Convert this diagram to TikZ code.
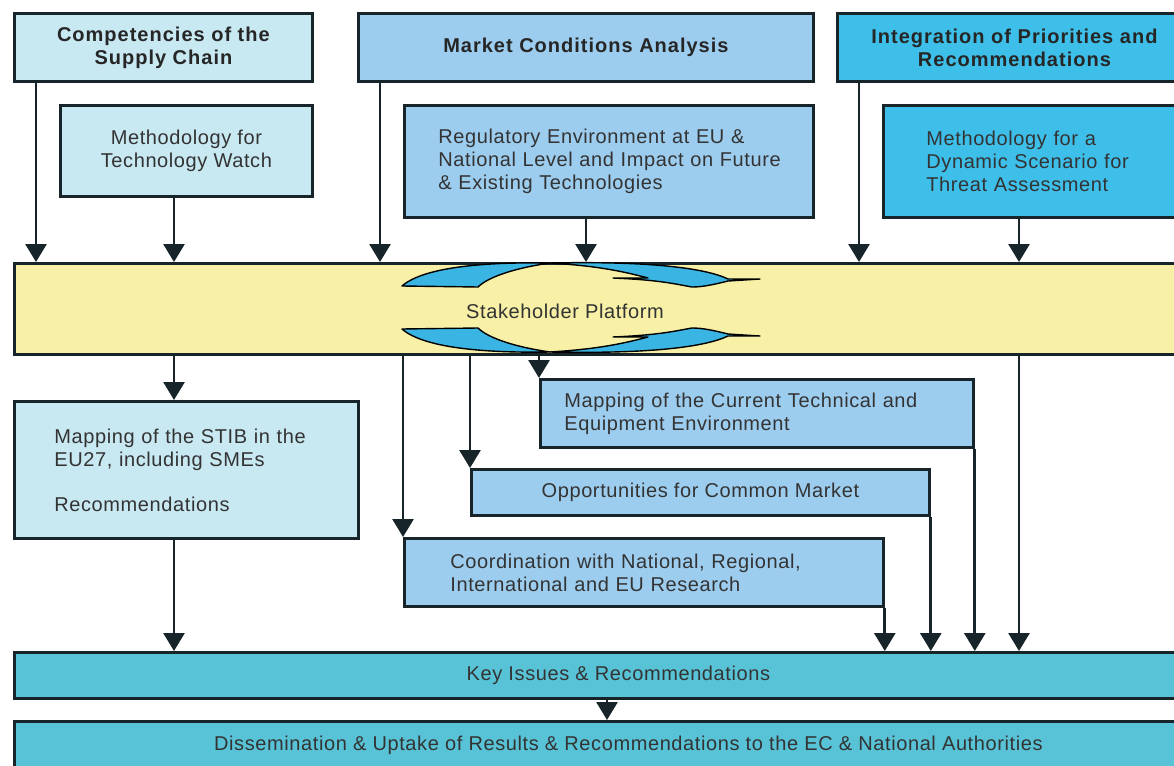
\documentclass[tikz,border=0pt]{standalone}
\usepackage{fontspec}
\setmainfont{Liberation Sans}
\usetikzlibrary{arrows.meta}
\definecolor{lightbl}{HTML}{C8E8F2}
\definecolor{midbl}{HTML}{9DCDEE}
\definecolor{cyanbl}{HTML}{3DBFEA}
\definecolor{platy}{HTML}{F7F0A6}
\definecolor{tealbl}{HTML}{58C3D6}
\definecolor{swoosh}{HTML}{3AB5E3}
\definecolor{edge}{HTML}{17242A}
\definecolor{txt}{HTML}{333333}
\newfontfamily\regfont[LetterSpace=3]{Liberation Sans}
\newfontfamily\boldfont[LetterSpace=5]{Liberation Sans Bold}
\begin{document}
\begin{tikzpicture}[x=1pt,y=-1pt,
  box/.style={draw=edge, line width=2.8pt, anchor=north west, inner ysep=0pt,
    text=txt, font=\regfont\fontsize{20}{23}\selectfont},
  cbox/.style={box, align=center, inner xsep=2pt},
  tbox/.style={cbox, font=\boldfont\fontsize{20}{23}\selectfont, text=black!85},
  arr/.style={draw=edge, line width=2.8pt, -{Triangle[width=21pt,length=18pt]}},
  swo/.style={draw=black, line width=1.4pt, fill=swoosh, line join=round}]
\useasboundingbox (0,0) rectangle (1174,765);
\clip (0,0) rectangle (1174,765);
\fill[white] (0,0) rectangle (1174,765);

% top row
\node[tbox, fill=lightbl, minimum width=298pt, minimum height=68pt] (comp) at (13,12) {Competencies of the\\Supply Chain};
\node[tbox, fill=midbl, minimum width=455pt, minimum height=68pt] (market) at (357,12) {Market Conditions Analysis};
\node[tbox, fill=cyanbl, minimum width=354pt, minimum height=68pt] (integ) at (836,12) {Integration of Priorities and\\Recommendations};

% second row
\node[cbox, fill=lightbl, minimum width=252pt, minimum height=91pt] (mtw) at (59,104) {Methodology for\\Technology Watch};
\node[box, fill=midbl, text width=341pt, inner xsep=34pt, minimum height=112pt, align=left] (reg) at (403,104) {\mbox{Regulatory Environment at EU \&}\\\mbox{National Level and Impact on Future}\\\mbox{\& Existing Technologies}};
\node[box, fill=cyanbl, text width=222pt, inner xsep=43pt, minimum height=112pt, align=left] (mds) at (882,104) {Methodology for a\\Dynamic Scenario for\\Threat Assessment};

% platform
\node[box, fill=platy, minimum width=1175pt, minimum height=91pt] (plat) at (13,262) {};

% swooshes
\draw[swo] (402,286) .. controls (425,266) and (490,262) .. (550,263)
  .. controls (515,268) and (488,277) .. (478,287) -- cycle;
\draw[swo] (550,263) .. controls (650,261) and (705,268) .. (728,279) -- (760,279) -- (728,281)
  .. controls (712,285) and (702,287) .. (692,287)
  .. controls (675,284) and (660,280) .. (613,278) -- (648,278)
  .. controls (625,272) and (600,266) .. cycle;
\begin{scope}[shift={(0,615)}, yscale=-1]
\draw[swo] (402,286) .. controls (425,266) and (490,262) .. (550,263)
  .. controls (515,268) and (488,277) .. (478,287) -- cycle;
\draw[swo] (550,263) .. controls (650,261) and (705,268) .. (728,279) -- (760,279) -- (728,281)
  .. controls (712,285) and (702,287) .. (692,287)
  .. controls (675,284) and (660,280) .. (613,278) -- (648,278)
  .. controls (625,272) and (600,266) .. cycle;
\end{scope}
\node[text=txt, font=\regfont\fontsize{20}{23}\selectfont, inner sep=0pt] (spt) at (565,311) {Stakeholder Platform};

% lower boxes
\node[box, fill=lightbl, text width=264pt, inner xsep=40pt, minimum height=137pt, align=left] (stib) at (13,400) {Mapping of the STIB in the\\EU27, including SMEs\\[22pt]Recommendations};
\node[box, fill=midbl, text width=385pt, inner xsep=24pt, minimum height=68pt, align=left] (mapcur) at (539,378) {\mbox{Mapping of the Current Technical and}\\Equipment Environment};
\node[cbox, fill=midbl, minimum width=458pt, minimum height=46pt] (opp) at (470,468) {Opportunities for Common Market};
\node[box, fill=midbl, text width=387pt, inner xsep=46pt, minimum height=68pt, align=left] (coord) at (403,537) {\mbox{Coordination with National, Regional,}\\International and EU Research};

% bottom bars
\node[cbox, fill=tealbl, minimum width=1208pt, minimum height=46pt] (keys) at (13,651) {Key Issues \& Recommendations};
\node[cbox, fill=tealbl, minimum width=1228pt, minimum height=52pt, text depth=8pt] (diss) at (13,720) {Dissemination \& Uptake of Results \& Recommendations to the EC \& National Authorities};

% arrows into platform
\draw[arr] (comp.south -| 36,0) -- (plat.north -| 36,0);
\draw[arr] (mtw.south -| 174,0) -- (plat.north -| 174,0);
\draw[arr] (market.south -| 380,0) -- (plat.north -| 380,0);
\draw[arr] (reg.south -| 586,0) -- (plat.north -| 586,0);
\draw[arr] (integ.south -| 859,0) -- (plat.north -| 859,0);
\draw[arr] (mds.south -| 1019,0) -- (plat.north -| 1019,0);

% arrows out of platform
\draw[arr] (plat.south -| 174,0) -- (stib.north -| 174,0);
\draw[arr] (plat.south -| coord.north west) -- (coord.north west);
\draw[arr] (plat.south -| opp.north west) -- (opp.north west);
\draw[arr] (plat.south -| mapcur.north west) -- (mapcur.north west);
\draw[arr] (plat.south -| 1019,0) -- (keys.north -| 1019,0);

% arrows into key issues
\draw[arr] (stib.south -| 174,0) -- (keys.north -| 174,0);
\draw[arr] (coord.south east) -- (keys.north -| coord.south east);
\draw[arr] (opp.south east) -- (keys.north -| opp.south east);
\draw[arr] (mapcur.south east) -- (keys.north -| mapcur.south east);
\draw[arr] (keys.south -| 607,0) -- (diss.north -| 607,0);
\end{tikzpicture}
\end{document}
